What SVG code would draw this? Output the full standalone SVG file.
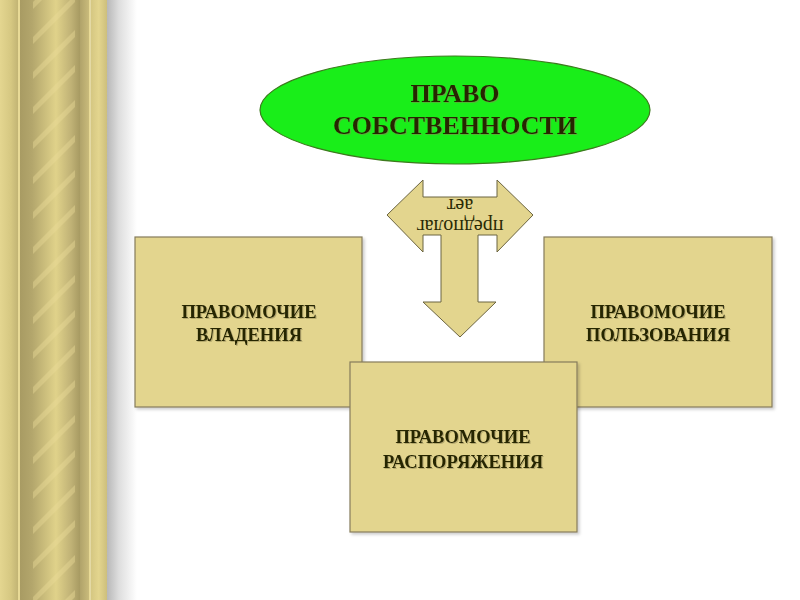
<svg xmlns="http://www.w3.org/2000/svg" width="800" height="600" viewBox="0 0 800 600">
  <defs>
    <linearGradient id="outer" x1="0" x2="1" y1="0" y2="0">
      <stop offset="0" stop-color="#e4d690"/>
      <stop offset="0.6" stop-color="#d6c882"/>
      <stop offset="1" stop-color="#c2b474"/>
    </linearGradient>
    <linearGradient id="rope" x1="0" x2="1" y1="0" y2="0">
      <stop offset="0" stop-color="#a89b63"/>
      <stop offset="0.2" stop-color="#b3a66c"/>
      <stop offset="0.6" stop-color="#e0d28a"/>
      <stop offset="0.85" stop-color="#c0b276"/>
      <stop offset="1" stop-color="#a79a62"/>
    </linearGradient>
    <linearGradient id="inner" x1="0" x2="1" y1="0" y2="0">
      <stop offset="0" stop-color="#b0a36a"/>
      <stop offset="1" stop-color="#c9bb7b"/>
    </linearGradient>
    <linearGradient id="right" x1="0" x2="1" y1="0" y2="0">
      <stop offset="0" stop-color="#d4c681"/>
      <stop offset="0.5" stop-color="#e3d58e"/>
      <stop offset="1" stop-color="#cdbf7c"/>
    </linearGradient>
    <linearGradient id="shadow" x1="0" x2="1" y1="0" y2="0">
      <stop offset="0" stop-color="#b8b8b8"/>
      <stop offset="0.4" stop-color="#dedede"/>
      <stop offset="1" stop-color="#ffffff"/>
    </linearGradient>
    <pattern id="twist" patternUnits="userSpaceOnUse" width="40" height="35" patternTransform="skewY(-45)">
      <rect x="0" y="0" width="40" height="7" fill="#ebdd98" opacity="0.4"/>
    </pattern>
    <clipPath id="ropeClip">
      <rect x="33" y="0" width="42" height="600"/>
    </clipPath>
    <filter id="sh" x="-5%" y="-5%" width="110%" height="110%">
      <feDropShadow dx="2" dy="2" stdDeviation="1.5" flood-color="#000" flood-opacity="0.2"/>
    </filter>
    <filter id="tsh" x="-5%" y="-20%" width="110%" height="140%">
      <feDropShadow dx="1" dy="1" stdDeviation="0.5" flood-color="#8a8050" flood-opacity="0.5"/>
    </filter>
  </defs>
  <style>
    .box { fill: #e3d58e; stroke: #857c5a; stroke-width: 1.2; }
    .lbl { font-family: "Liberation Serif", "Times New Roman", serif; font-weight: bold; fill: #252505; text-anchor: middle; }
    .big { font-size: 26px; }
    .mid { font-size: 18.5px; }
    .arr { fill: #e3d58e; stroke: #6b6440; stroke-width: 1; }
    .atxt { font-family: "Liberation Serif", "Times New Roman", serif; font-size: 20px; fill: #2a2a05; text-anchor: middle; }
  </style>

  <rect width="800" height="600" fill="#ffffff"/>

  <!-- decorative column -->
  <g id="column">
    <rect x="0" y="0" width="18" height="600" fill="url(#outer)"/>
    <rect x="18" y="0" width="2" height="600" fill="#e8da96"/>
    <rect x="20" y="0" width="60" height="600" fill="url(#rope)"/>
    <rect x="20" y="0" width="80" height="600" fill="url(#twist)" clip-path="url(#ropeClip)"/>
    <rect x="80" y="0" width="9" height="600" fill="url(#inner)"/>
    <rect x="89" y="0" width="1.5" height="600" fill="#e8da96"/>
    <rect x="90.5" y="0" width="16.5" height="600" fill="url(#right)"/>
    <rect x="107" y="0" width="30" height="600" fill="url(#shadow)"/>
  </g>

  <g id="connectors">
    <g id="arrow">
      <path class="arr" d="M387,215 L423,180 L423,197 L497,197 L497,180 L533,215 L497,252 L497,235 L478,235 L478,302 L496,302 L460,337 L423,302 L441,302 L441,235 L423,235 L423,252 Z"/>
      <g transform="rotate(180 460 215)">
        <text class="atxt" x="460" y="210">предполаг</text>
        <text class="atxt" x="460" y="231">ает</text>
      </g>
    </g>
  </g>

  <g id="node-pravo">
    <ellipse cx="455" cy="110" rx="195" ry="54" fill="#19ee19" stroke="#3d7a1e" stroke-width="1.2"/>
    <text class="lbl big" x="455" y="102" filter="url(#tsh)">ПРАВО</text>
    <text class="lbl big" x="455" y="134" filter="url(#tsh)">СОБСТВЕННОСТИ</text>
  </g>

  <g id="node-vladenie">
    <rect class="box" x="135" y="237" width="227" height="170" filter="url(#sh)"/>
    <text class="lbl mid" x="249" y="318" filter="url(#tsh)">ПРАВОМОЧИЕ</text>
    <text class="lbl mid" x="249" y="341" filter="url(#tsh)">ВЛАДЕНИЯ</text>
  </g>

  <g id="node-polzovanie">
    <rect class="box" x="544" y="237" width="228" height="170" filter="url(#sh)"/>
    <text class="lbl mid" x="658" y="318" filter="url(#tsh)">ПРАВОМОЧИЕ</text>
    <text class="lbl mid" x="658" y="341" filter="url(#tsh)">ПОЛЬЗОВАНИЯ</text>
  </g>

  <g id="node-rasporyazhenie">
    <rect class="box" x="350" y="362" width="227" height="170" filter="url(#sh)"/>
    <text class="lbl mid" x="463" y="443" filter="url(#tsh)">ПРАВОМОЧИЕ</text>
    <text class="lbl mid" x="463" y="468" filter="url(#tsh)">РАСПОРЯЖЕНИЯ</text>
  </g>
</svg>
